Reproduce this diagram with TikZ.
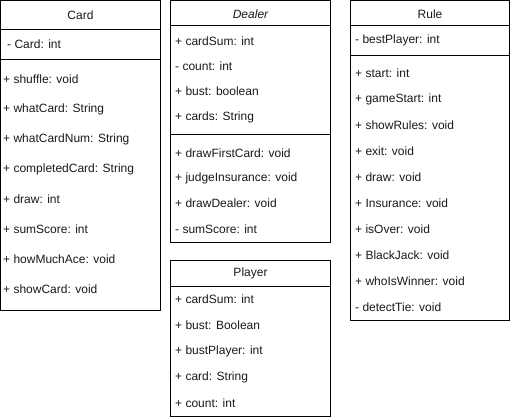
\documentclass[tikz,border=0pt]{standalone}
\usepackage{fontspec}
\setmainfont{Liberation Sans}
\begin{document}
\begin{tikzpicture}[x=1pt,y=-1pt,
  box/.style={draw=black,line width=1pt},
  sep/.style={draw=black,line width=1pt},
  item/.style={anchor=west,inner sep=0pt,font=\fontsize{12}{14}\selectfont,text=black!90},
  title/.style={anchor=center,inner sep=0pt,font=\fontsize{12}{14}\selectfont,text=black!90}]
\useasboundingbox (0,0) rectangle (511,420);
% Card
\draw[box] (0.5,0.5) rectangle (160.5,310);
\draw[sep] (0.5,30) -- (160.5,30);
\draw[sep] (0.5,60) -- (160.5,60);
\node[title] (cardT) at (80.5,15) {Card};
\node[item] (c0) at (7,44) {- Card: int};
\node[item] (c1) at (3,79) {+ shuffle: void};
\node[item] (c2) at (3,109) {+ whatCard: String};
\node[item] (c3) at (3,139) {+ whatCardNum: String};
\node[item] (c4) at (3,169) {+ completedCard: String};
\node[item] (c5) at (3,199) {+ draw: int};
\node[item] (c6) at (3,229) {+ sumScore: int};
\node[item] (c7) at (3,259) {+ howMuchAce: void};
\node[item] (c8) at (3,289) {+ showCard: void};
% Dealer
\draw[box] (170.5,0.5) rectangle (330.5,242);
\draw[sep] (170.5,26) -- (330.5,26);
\draw[sep] (170.5,134) -- (330.5,134);
\node[title,font=\fontsize{12}{14}\selectfont\itshape] (dT) at (250.5,14) {Dealer};
\node[item] (d1) at (175,41) {+ cardSum: int};
\node[item] (d2) at (175,66) {- count: int};
\node[item] (d3) at (175,91) {+ bust: boolean};
\node[item] (d4) at (175,117) {+ cards: String};
\node[item] (d5) at (175,153) {+ drawFirstCard: void};
\node[item] (d6) at (175,178) {+ judgeInsurance: void};
\node[item] (d7) at (175,203) {+ drawDealer: void};
\node[item] (d8) at (175,229) {- sumScore: int};
% Player
\draw[box] (170.5,260.5) rectangle (330.5,416);
\draw[sep] (170.5,286) -- (330.5,286);
\node[title] (pT) at (250.5,273) {Player};
\node[item] (p1) at (175,299) {+ cardSum: int};
\node[item] (p2) at (175,325) {+ bust: Boolean};
\node[item] (p3) at (175,351) {+ bustPlayer: int};
\node[item] (p4) at (175,377) {+ card: String};
\node[item] (p5) at (175,403) {+ count: int};
% Rule
\draw[box] (350.5,0.5) rectangle (509.5,320);
\draw[sep] (350.5,26) -- (509.5,26);
\draw[sep] (350.5,56) -- (509.5,56);
\node[title] (rT) at (430,14) {Rule};
\node[item] (r0) at (355,40) {- bestPlayer: int};
\node[item] (r1) at (355,73) {+ start: int};
\node[item] (r2) at (355,99) {+ gameStart: int};
\node[item] (r3) at (355,125) {+ showRules: void};
\node[item] (r4) at (355,151) {+ exit: void};
\node[item] (r5) at (355,177) {+ draw: void};
\node[item] (r6) at (355,203) {+ Insurance: void};
\node[item] (r7) at (355,229) {+ isOver: void};
\node[item] (r8) at (355,255) {+ BlackJack: void};
\node[item] (r9) at (355,281) {+ whoIsWinner: void};
\node[item] (r10) at (355,307) {- detectTie: void};
\end{tikzpicture}
\end{document}
